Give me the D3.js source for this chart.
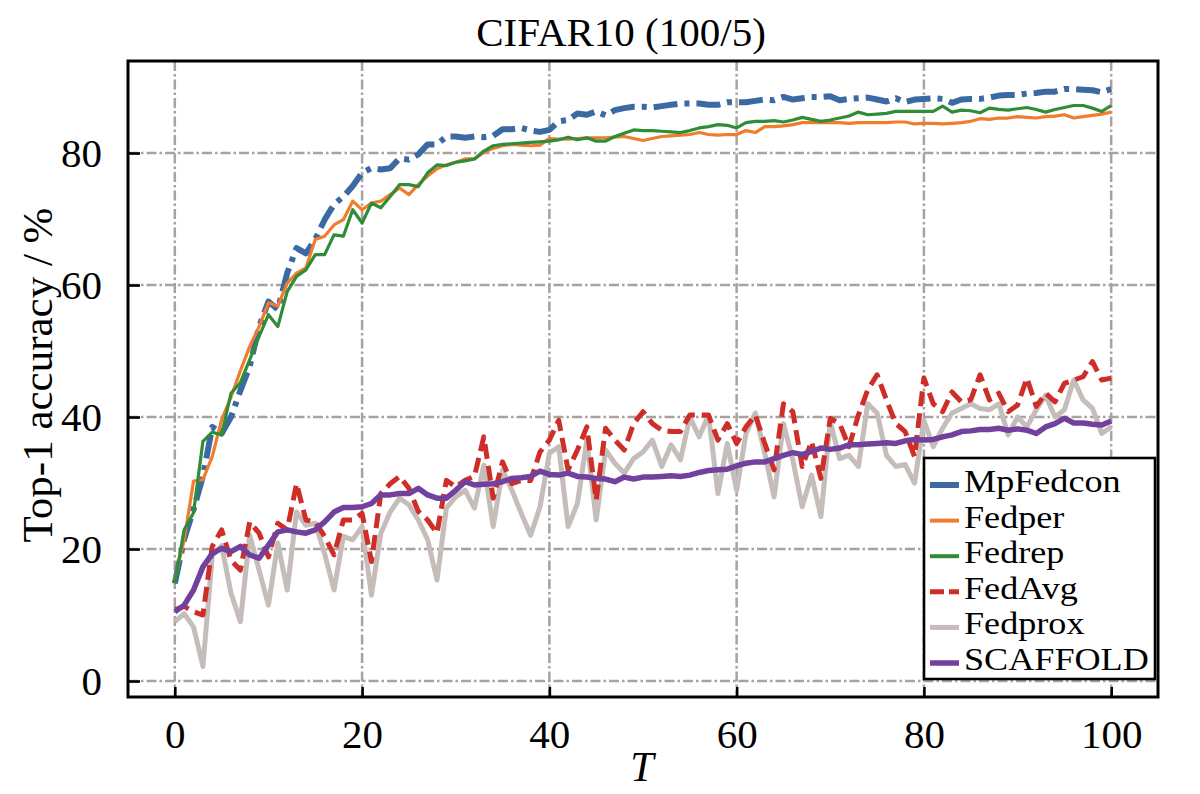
<!DOCTYPE html>
<html>
<head>
<meta charset="utf-8">
<script src="https://cdn.jsdelivr.net/npm/d3@7"></script>
<style>
  html, body { margin: 0; padding: 0; background: #fff; }
  svg text { font-family: "Liberation Serif", "DejaVu Serif", serif; fill: #000; }
</style>
</head>
<body>
<svg id="chart" width="1200" height="794"></svg>
<script>
// rounds 0..100
const rounds = d3.range(0, 101);
const xTicks = [0, 20, 40, 60, 80, 100];
const yTicks = [0, 20, 40, 60, 80];

const mpFedcon = [
  14.8, 21.5, 26, 31, 38.5, 37.5, 40, 44, 47.7, 53.7,
  57.5, 56.3, 61.8, 65.6, 64.8, 66.9, 69.9, 72.2, 73.4, 75,
  77, 77.7, 77.5, 77.7, 79.2, 79, 79.8, 81.3, 81.3, 82.5,
  82.5, 82.3, 82.5, 82.4, 82.6, 83.6, 83.6, 83.8, 83.4, 83.2,
  83.5, 84.8, 85, 86, 85.8, 86.3, 85.7, 86.5, 86.8, 87,
  87, 86.9, 87.1, 87.3, 87.5, 87.5, 87.5, 87.3, 87.3, 87.7,
  87.7, 87.7, 87.9, 88.1, 88, 88.5, 88.1, 88.3, 88.5, 88.5,
  88.6, 88, 88.2, 88.3, 88.4, 88.1, 87.8, 88.3, 87.7, 88.1,
  88.2, 88.3, 88.2, 87.6, 88.1, 88.2, 88.2, 88.4, 88.7, 88.8,
  88.8, 89, 89.1, 89.3, 89.3, 89.7, 89.7, 89.6, 89.5, 89.2,
  89.7
];
const fedper = [
  15.4, 21.4, 30.3, 30.5, 34, 39.6, 43, 47, 50.7, 53.7,
  57.3, 56.8, 60.3, 61.8, 62.6, 66.9, 67.4, 69.1, 69.9, 72.7,
  71.4, 72.4, 72.7, 73.7, 74.7, 73.7, 75.2, 76.5, 77.6, 78.2,
  78.6, 79.1, 79.1, 80.1, 80.7, 81.1, 81.3, 81.2, 81.1, 81.2,
  82.2, 82.1, 82.1, 82.2, 82.3, 82.3, 82.3, 82.4, 82.5, 82.2,
  81.9, 82.2, 82.5, 82.6, 82.7, 82.8, 83.1, 82.8, 82.7, 82.8,
  82.8, 83.4, 83.1, 84, 84, 84.1, 84.3, 84.6, 84.6, 84.6,
  84.6, 84.6, 84.5, 84.6, 84.6, 84.6, 84.6, 84.7, 84.7, 84.4,
  84.5, 84.5, 84.4, 84.5, 84.6, 84.8, 85.2, 85.1, 85.3, 85.3,
  85.5, 85.4, 85.3, 85.5, 85.6, 85.8, 85.3, 85.5, 85.7, 85.9,
  86.2
];
const fedrep = [
  14.8, 22.9, 25.5, 36.3, 37.7, 37.3, 43.6, 45.2, 48.7, 52.2,
  55.5, 53.7, 59, 61.3, 62.3, 64.6, 64.6, 67.6, 67.4, 71.4,
  69.4, 72.4, 71.7, 73.4, 75.2, 75.2, 74.9, 77, 78.2, 78.1,
  78.6, 78.8, 79.1, 80.3, 81.1, 81.3, 81.4, 81.5, 81.6, 81.7,
  81.8, 82, 82.4, 82, 82.3, 81.8, 81.8, 82.5, 83, 83.5,
  83.4, 83.4, 83.3, 83.2, 83.1, 83.4, 83.8, 84, 84.3, 84.2,
  83.8, 84.6, 84.8, 84.8, 84.9, 84.7, 85, 85.4, 85.1, 84.8,
  85, 85.3, 85.6, 86.2, 85.8, 85.9, 86, 86.3, 86.3, 86.3,
  86.3, 86.3, 87.1, 86.2, 86.5, 86.4, 86.1, 86.8, 86.6, 86.5,
  86.7, 86.9, 86.6, 86.2, 86.6, 86.9, 87.2, 87.2, 86.8, 86.3,
  87.2
];
const fedAvg = [
  10.8, 11.3, 10.5, 10, 20.4, 22.9, 18.3, 16.8, 24.1, 22.4,
  18.8, 23.9, 22.9, 29.9, 24.4, 24.1, 21.9, 19.1, 24.4, 24.4,
  25.4, 18.1, 28.4, 29.9, 31, 29.2, 25.7, 24.4, 22.4, 30.4,
  29.4, 30.4, 31, 37, 27.7, 33.2, 29.9, 30.4, 30.4, 34.7,
  36.5, 39.5, 32, 35, 38.5, 27.4, 38.3, 36.5, 35, 39,
  40.8, 39, 38, 37.8, 37.8, 40.3, 40.3, 40.3, 36.5, 39,
  36, 38.5, 40.3, 36, 32, 42, 40.8, 32.5, 36.3, 30.7,
  39.8, 39, 35.5, 40.3, 44.1, 46.4, 42.6, 39, 37.8, 34,
  45.9, 42, 40.8, 43.8, 42.3, 42.6, 46.4, 42.6, 43.6, 40.8,
  41.8, 45.9, 41.6, 43.6, 42.3, 45.1, 45.6, 46.1, 48.4, 45.6,
  45.9
];
const fedprox = [
  9, 10.2, 8.2, 2.2, 19, 20.5, 13.3, 9, 22.1, 16.8,
  11.5, 20.9, 13.8, 25.6, 23.6, 23.9, 19.3, 13.8, 21.9, 21.4,
  23.4, 13, 22.4, 25.6, 27.7, 26.7, 24.4, 21.4, 15.3, 26.2,
  27.9, 28.9, 26.2, 32.7, 23.4, 32, 28.9, 25.4, 22.1, 26.4,
  34.5, 35.5, 23.4, 26.9, 36.5, 24.4, 35, 33, 31.5, 33.7,
  34.7, 36.5, 32.5, 35.8, 33.5, 40, 37, 40.3, 28.4, 36,
  28.9, 37.5, 40.6, 34.5, 27.9, 39, 33.5, 26.4, 31.2, 24.9,
  39.3, 33.7, 34.2, 32.5, 42, 40.6, 34.2, 32.5, 32.8, 30,
  39.5, 35.5, 38.3, 40.6, 41.3, 42, 41.3, 41.1, 42, 37.3,
  40, 38.5, 41.1, 43.3, 40, 41.1, 45.6, 42.6, 41.3, 37.5,
  38.5
];
const scaffold = [
  10.5, 11.5, 13.8, 17.3, 19.3, 20.1, 19.6, 20.4, 19.1, 18.6,
  20.6, 22.6, 22.9, 22.6, 22.4, 22.9, 24.1, 25.6, 26.3, 26.3,
  26.4, 26.9, 28.2, 28.2, 28.4, 28.4, 29.2, 28.2, 27.7, 27.7,
  28.9, 30.2, 29.7, 29.8, 29.9, 30.2, 30.7, 30.8, 31, 31.8,
  31.3, 31.2, 31.5, 31, 30.9, 30.7, 30.6, 30.2, 30.9, 30.6,
  30.9, 30.9, 31, 31.1, 31, 31.2, 31.6, 31.9, 32, 32.1,
  32.6, 33, 33.2, 33.2, 33.7, 34.2, 34.6, 34.3, 34.8, 35.3,
  35.1, 35.3, 35.8, 35.8, 35.9, 36, 36.1, 36, 36.4, 36.6,
  36.5, 36.6, 37, 37.3, 37.8, 37.9, 38.1, 38.1, 38.3, 38,
  38.2, 38, 37.5, 38.5, 39, 39.8, 39.1, 39.1, 38.9, 38.8,
  39.4
];

const seriesNames = ["MpFedcon", "Fedper", "Fedrep", "FedAvg", "Fedprox", "SCAFFOLD"];
const seriesValues = [mpFedcon, fedper, fedrep, fedAvg, fedprox, scaffold];

// styling per series (same order as names)
const styles = [
  { color: "#3b69a1", width: 6, dash: "24,7,5,7" },
  { color: "#f07c2d", width: 3.2, dash: null },
  { color: "#2f8c37", width: 3.2, dash: null },
  { color: "#cf2e28", width: 5, dash: "15,7" },
  { color: "#c4bdb9", width: 5, dash: null },
  { color: "#71419d", width: 5.5, dash: null }
];
// draw order: grey under red, purple on top
const drawOrder = [0, 1, 2, 4, 3, 5];

const plotLeft = 128, plotRight = 1158, plotTop = 61, plotBottom = 697;

const svg = d3.select("#chart");

const x = d3.scaleLinear().domain([-5, 105]).range([plotLeft, plotRight]);
const y = d3.scaleLinear().domain([-2.42, 93.94]).range([plotBottom, plotTop]);

// grid
const grid = svg.append("g").attr("class", "grid")
    .attr("stroke", "#aaa29f")
    .attr("stroke-width", 2.5)
    .attr("stroke-dasharray", "10,3,2.5,3");

grid.selectAll("line.gx")
    .data(xTicks)
    .enter().append("line")
    .attr("class", "gx")
    .attr("x1", d => x(d)).attr("x2", d => x(d))
    .attr("y1", plotTop).attr("y2", plotBottom);

grid.selectAll("line.gy")
    .data(yTicks)
    .enter().append("line")
    .attr("class", "gy")
    .attr("x1", plotLeft).attr("x2", plotRight)
    .attr("y1", d => y(d)).attr("y2", d => y(d));

// lines
svg.append("clipPath").attr("id", "plotClip")
    .append("rect")
    .attr("x", plotLeft).attr("y", plotTop)
    .attr("width", plotRight - plotLeft).attr("height", plotBottom - plotTop);

const line = d3.line()
    .x((d, i) => x(rounds[i]))
    .y(d => y(d));

const plot = svg.append("g").attr("clip-path", "url(#plotClip)");

drawOrder.forEach(k => {
    const s = styles[k];
    plot.append("path")
        .datum(seriesValues[k])
        .attr("fill", "none")
        .attr("stroke", s.color)
        .attr("stroke-width", s.width)
        .attr("stroke-linejoin", "round")
        .attr("stroke-dasharray", s.dash)
        .attr("d", line);
});

// axes: inward ticks on left and bottom only
const xAxis = svg.append("g")
    .attr("transform", `translate(0,${plotBottom})`)
    .call(d3.axisBottom(x).tickValues(xTicks).tickSize(-10).tickPadding(22));
const yAxis = svg.append("g")
    .attr("transform", `translate(${plotLeft},0)`)
    .call(d3.axisLeft(y).tickValues(yTicks).tickSize(-12).tickPadding(22));

[xAxis, yAxis].forEach(a => {
    a.select(".domain").remove();
    a.selectAll(".tick line").attr("stroke", "#000").attr("stroke-width", 2.6);
    a.selectAll(".tick text")
        .style("font-family", "'Liberation Serif', serif")
        .style("font-size", "41px")
        .attr("fill", "#000");
});
xAxis.selectAll(".tick text").attr("dy", "0.7em");
yAxis.selectAll(".tick text").attr("dx", "-0.1em");

// frame
svg.append("rect")
    .attr("x", plotLeft).attr("y", plotTop)
    .attr("width", plotRight - plotLeft).attr("height", plotBottom - plotTop)
    .attr("fill", "none")
    .attr("stroke", "#000")
    .attr("stroke-width", 3);

// title and axis labels
svg.append("text")
    .attr("x", 621).attr("y", 46)
    .attr("text-anchor", "middle")
    .style("font-size", "41px")
    .text("CIFAR10 (100/5)");

svg.append("text")
    .attr("x", 642).attr("y", 781)
    .attr("text-anchor", "middle")
    .style("font-size", "42px")
    .style("font-style", "italic")
    .text("T");

svg.append("text")
    .attr("transform", "translate(52,375) rotate(-90)")
    .attr("text-anchor", "middle")
    .style("font-size", "43px")
    .text("Top-1 accuracy / %");

// legend
const legend = svg.append("g");
legend.append("rect")
    .attr("x", 924).attr("y", 458)
    .attr("width", 231).attr("height", 221)
    .attr("fill", "#fff")
    .attr("stroke", "#000")
    .attr("stroke-width", 2.6);

const rows = legend.selectAll("g.row")
    .data(seriesNames)
    .enter().append("g")
    .attr("class", "row")
    .attr("transform", (d, i) => `translate(0,${485 + i * 35.6})`);

rows.append("line")
    .attr("x1", 930).attr("x2", 959)
    .attr("y1", 0).attr("y2", 0)
    .attr("stroke", (d, i) => styles[i].color)
    .attr("stroke-width", (d, i) => Math.max(styles[i].width, 4))
    .attr("stroke-dasharray", (d, i) => i === 3 ? "14,5" : null);

// narrower font box, widened to the reference's text width
rows.append("text")
    .attr("transform", "translate(964,7) scale(1.13,1)")
    .style("font-size", "32px")
    .text(d => d);
</script>
</body>
</html>
